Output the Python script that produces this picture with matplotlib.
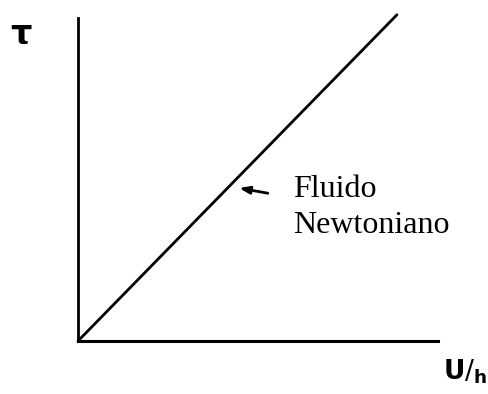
import matplotlib.pyplot as plt

# datos: recta del fluido newtoniano (origen -> extremo superior)
gradiente = [0.0, 0.886]
esfuerzo = [0.0, 1.01]

fig = plt.figure(figsize=(4.89, 3.94), dpi=100)
ax = fig.add_axes([78 / 489, 53 / 394, 360 / 489, 323 / 394])
ax.set_xlim(0, 1)
ax.set_ylim(0, 1)

ax.plot(gradiente, esfuerzo, color="black", lw=2, clip_on=False, solid_capstyle="round")

for lado in ["top", "right"]:
    ax.spines[lado].set_visible(False)
ax.spines["left"].set_linewidth(2)
ax.spines["bottom"].set_linewidth(2.2)
ax.set_xticks([])
ax.set_yticks([])

# etiquetas de ejes
ax.text(-0.158, 0.95, "τ", fontsize=24, ha="center", va="center",
        fontweight="bold", transform=ax.transAxes)
ax.text(1.075, -0.096, r"$\mathbf{U}/_{\mathbf{h}}$", fontsize=19, ha="center",
        va="center", transform=ax.transAxes)

# anotación
ax.annotate("", xy=(0.44, 0.475), xytext=(0.535, 0.456),
            xycoords="axes fraction", textcoords="axes fraction",
            arrowprops=dict(arrowstyle="-|>,head_length=0.6,head_width=0.22",
                            color="black", lw=2))
ax.text(0.597, 0.446, "Fluido", family="Liberation Serif",
        fontsize=23, ha="left", va="baseline", transform=ax.transAxes)
ax.text(0.597, 0.334, "Newtoniano", family="Liberation Serif",
        fontsize=23, ha="left", va="baseline", transform=ax.transAxes)

fig.savefig("out.png", dpi=100)
